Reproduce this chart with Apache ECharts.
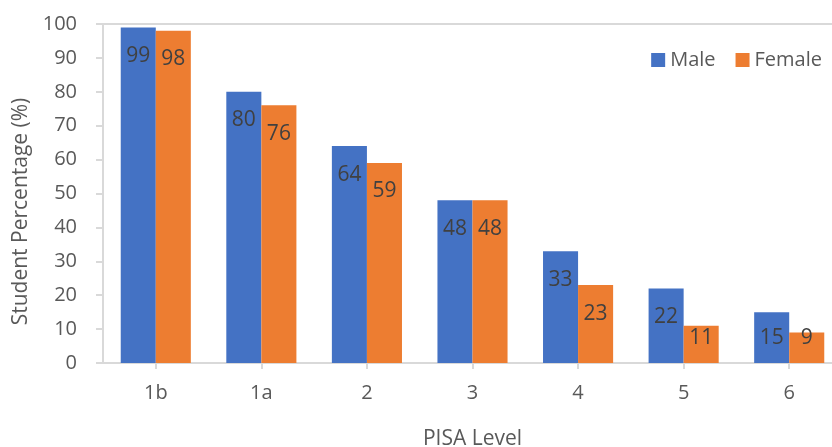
<!DOCTYPE html>
<html><head><meta charset="utf-8">
<script src="https://cdn.jsdelivr.net/npm/echarts@6/dist/echarts.min.js"></script>
<style>html,body{margin:0;padding:0;background:#fff}#c{width:832px;height:447px}</style>
</head><body><div id="c"></div>
<script>
const categories = ['1b','1a','2','3','4','5','6'];
const male = [99,80,64,48,33,22,15];
const female = [98,76,59,48,23,11,9];
const yTicks = {min:0,max:100,interval:10};

const FONT = 'Open Sans';
const chart = echarts.init(document.getElementById('c'));
const lbl = {show:true,position:'insideTop',distance:18,color:'#404040',fontSize:21,fontFamily:FONT};
function items(arr){
  return arr.map(v => v <= 15 ? {value:v,label:{position:'insideBottom',distance:14}} : v);
}
chart.setOption({
  animation:false,
  textStyle:{fontFamily:FONT},
  legend:{right:5,top:45,itemWidth:14,itemHeight:14,itemGap:20,
    textStyle:{fontSize:20,color:'#595959',fontFamily:FONT},
    data:[{name:'Male',icon:'rect'},{name:'Female',icon:'rect'}]},
  grid:{left:103,top:24,bottom:84,width:739,containLabel:false,outerBoundsMode:'none'},
  xAxis:[{type:'category',data:categories,name:'PISA Level',nameLocation:'middle',nameGap:66,
    nameTextStyle:{fontSize:21,color:'#595959',fontFamily:FONT},
    axisLine:{lineStyle:{color:'#d9d9d9',width:2}},
    axisTick:{show:true,alignWithLabel:true,length:6,lineStyle:{color:'#d9d9d9',width:2}},
    axisLabel:{fontSize:20,color:'#595959',margin:20,fontFamily:FONT}},
    {type:'category',data:categories,position:'top',
    axisLine:{show:true,lineStyle:{color:'#d9d9d9',width:2}},axisTick:{show:false},axisLabel:{show:false}}],
  yAxis:{type:'value',min:yTicks.min,max:yTicks.max,interval:yTicks.interval,
    name:'Student Percentage (%)',nameLocation:'middle',nameGap:70,
    nameTextStyle:{fontSize:21,color:'#595959',fontFamily:FONT,padding:[0,36,0,0]},
    axisLine:{show:true,lineStyle:{color:'#d9d9d9',width:2}},
    axisTick:{show:true,length:7,lineStyle:{color:'#d9d9d9',width:2}},
    splitLine:{show:false},
    axisLabel:{fontSize:20,color:'#595959',margin:26,fontFamily:FONT}},
  series:[
    {name:'Male',type:'bar',data:items(male),barGap:'0%',barCategoryGap:'33.6%',itemStyle:{color:'#4472C4'},label:lbl},
    {name:'Female',type:'bar',data:items(female),barGap:'0%',barCategoryGap:'33.6%',itemStyle:{color:'#ED7D31'},label:lbl}
  ]
});
</script></body></html>
